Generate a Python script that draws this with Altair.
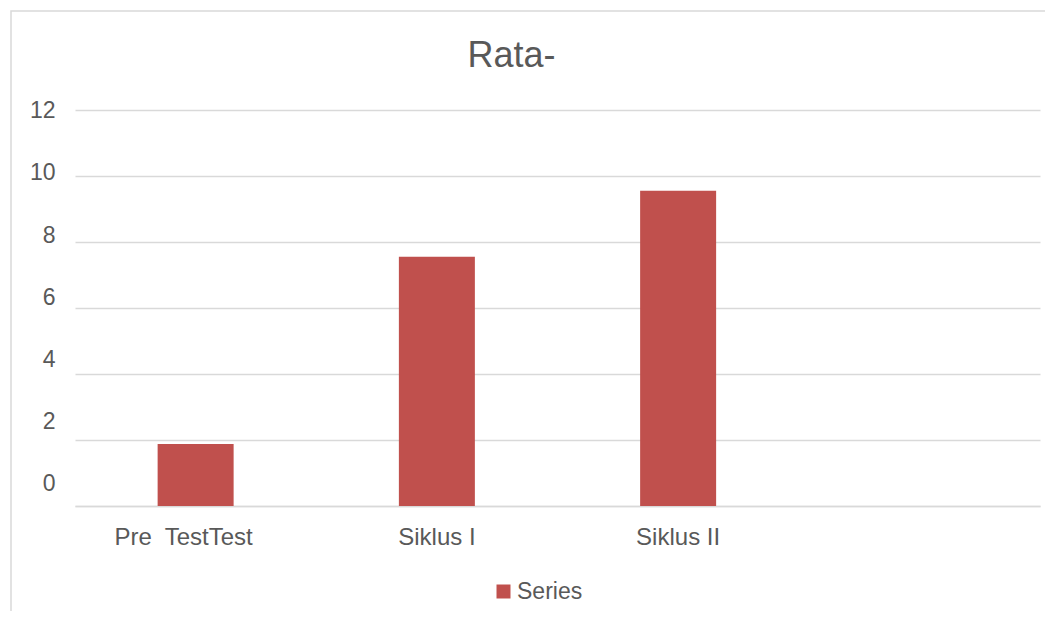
import altair as alt
import pandas as pd

categories = ["Pre\u00a0 TestTest", "Siklus I", "Siklus II"]
empty_slot = [" "]
values = [1.88, 7.55, 9.55]
series_name = "Series"
y_ticks = [0, 2, 4, 6, 8, 10, 12]

df = pd.DataFrame({"cat": categories, "val": values, "series": [series_name] * len(categories)})

FONT = "Liberation Sans"
GREY = "#595959"
GRID = "#d9d9d9"

y_label_offset = {
    "condition": [
        {"test": "datum.value == 10", "value": -4},
        {"test": "datum.value == 8", "value": -7},
        {"test": "datum.value == 6", "value": -11},
        {"test": "datum.value == 4", "value": -15},
        {"test": "datum.value == 2", "value": -19},
        {"test": "datum.value == 0", "value": -23},
    ],
    "value": 0,
}
x_label_offset = {
    "condition": [{"test": "datum.index == 0", "value": -12}],
    "value": 0,
}

bars = alt.Chart(df).mark_bar(size=76, color="#c0504d").encode(
    x=alt.X(
        "cat:N",
        sort=None,
        scale=alt.Scale(domain=categories + empty_slot, paddingInner=0, paddingOuter=0),
        axis=alt.Axis(
            title=None, labelAngle=0, labelFont=FONT, labelFontSize=24, labelColor=GREY,
            labelPadding=19, ticks=False, domain=True, domainColor=GRID, domainWidth=1.5,
            labelOffset=x_label_offset,
        ),
    ),
    y=alt.Y(
        "val:Q",
        scale=alt.Scale(domain=[0, 12]),
        axis=alt.Axis(
            title=None, values=y_ticks, labelFont=FONT, labelFontSize=23, labelColor=GREY,
            labelPadding=20, ticks=False, domain=False, gridColor=GRID, gridWidth=1.5,
            labelOffset=y_label_offset,
        ),
    ),
    fill=alt.Fill(
        "series:N",
        scale=alt.Scale(range=["#c0504d"]),
        legend=alt.Legend(
            title=None, orient="none", legendX=417, legendY=470, symbolType="square",
            symbolSize=196, symbolStrokeWidth=0, labelFont=FONT, labelFontSize=23,
            labelColor=GREY, labelOffset=2,
        ),
    ),
)

# light grey chart-area frame (decoration only)
frame = alt.Chart(pd.DataFrame({"k": [0]})).mark_rect(
    fill=None, stroke=GRID, strokeWidth=1.5
).encode(
    x=alt.value(-64), x2=alt.value(1100), y=alt.value(-99), y2=alt.value(700)
)

chart = alt.layer(frame, bars).properties(
    width=965,
    height=396,
    title=alt.TitleParams(
        "Rata-", font=FONT, fontSize=36, fontWeight="normal", color=GREY,
        anchor="middle", frame="group", dx=-46, offset=26, dy=119, baseline="alphabetic",
    ),
    autosize=alt.AutoSizeParams(type="none"),
    padding={"left": 67, "top": 102, "right": 5, "bottom": 105},
).configure_view(stroke=None)

chart.save("out.html", embed_options={"renderer": "svg", "actions": False})
